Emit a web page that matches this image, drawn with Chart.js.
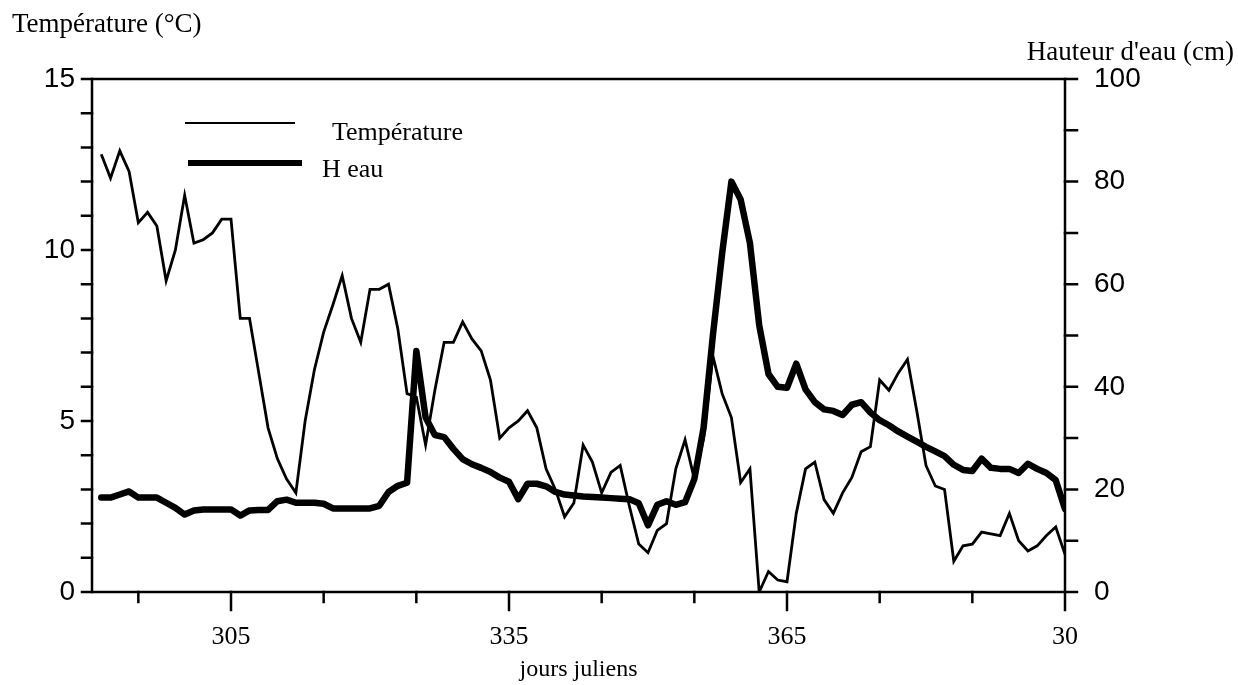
<!DOCTYPE html>
<html>
<head>
<meta charset="utf-8">
<script src="https://cdn.jsdelivr.net/npm/chart.js@4.4.1/dist/chart.umd.min.js"></script>
<style>
  html, body { margin: 0; padding: 0; background: #fff; }
  #wrap { width: 1238px; height: 685px; }
</style>
</head>
<body>
<div id="wrap"><canvas id="chart" width="1238" height="685"></canvas></div>
<script>
// jours juliens (291 -> 395, i.e. 30 janvier de l'annee suivante)
const days = [
  291, 292, 293, 294, 295, 296, 297, 298, 299, 300,
  301, 302, 303, 304, 305, 306, 307, 308, 309, 310,
  311, 312, 313, 314, 315, 316, 317, 318, 319, 320,
  321, 322, 323, 324, 325, 326, 327, 328, 329, 330,
  331, 332, 333, 334, 335, 336, 337, 338, 339, 340,
  341, 342, 343, 344, 345, 346, 347, 348, 349, 350,
  351, 352, 353, 354, 355, 356, 357, 358, 359, 360,
  361, 362, 363, 364, 365, 366, 367, 368, 369, 370,
  371, 372, 373, 374, 375, 376, 377, 378, 379, 380,
  381, 382, 383, 384, 385, 386, 387, 388, 389, 390,
  391, 392, 393, 394, 395
];

const temperature = [
  12.8, 12.1, 12.9, 12.3, 10.8, 11.1, 10.7, 9.1, 10.0, 11.6,
  10.2, 10.3, 10.5, 10.9, 10.9, 8.0, 8.0, 6.4, 4.8, 3.9,
  3.3, 2.9, 5.0, 6.5, 7.6, 8.4, 9.25, 8.0, 7.3, 8.85,
  8.85, 9.0, 7.7, 5.8, 5.7, 4.3, 5.9, 7.3, 7.3, 7.9,
  7.4, 7.05, 6.2, 4.5, 4.8, 5.0, 5.3, 4.8, 3.6, 3.0,
  2.2, 2.6, 4.3, 3.8, 2.9, 3.5, 3.7, 2.5, 1.4, 1.15,
  1.8, 2.0, 3.6, 4.45, 3.3, 4.5, 6.9, 5.8, 5.1, 3.2,
  3.6, 0.0, 0.6, 0.35, 0.3, 2.3, 3.6, 3.8, 2.7, 2.3,
  2.9, 3.35, 4.1, 4.25, 6.2, 5.9, 6.4, 6.8, 5.3, 3.7,
  3.1, 3.0, 0.9, 1.35, 1.4, 1.75, 1.7, 1.65, 2.3, 1.5,
  1.2, 1.35, 1.65, 1.9, 1.1
];

const waterHeight = [
  18.4, 18.4, 19.0, 19.6, 18.4, 18.4, 18.4, 17.4, 16.4, 15.1,
  15.9, 16.1, 16.1, 16.1, 16.1, 14.9, 15.9, 16.0, 16.0, 17.7,
  18.0, 17.4, 17.4, 17.4, 17.2, 16.3, 16.3, 16.3, 16.3, 16.3,
  16.8, 19.5, 20.7, 21.3, 47.0, 34.0, 30.6, 30.2, 27.9, 25.9,
  24.9, 24.2, 23.4, 22.3, 21.5, 18.1, 21.1, 21.1, 20.6, 19.5,
  19.0, 18.8, 18.6, 18.5, 18.4, 18.3, 18.2, 18.1, 17.3, 13.0,
  17.0, 17.7, 17.0, 17.5, 22.0, 32.0, 50.0, 66.0, 80.0, 76.5,
  68.0, 52.0, 42.5, 40.0, 39.8, 44.5, 39.5, 37.0, 35.6, 35.3,
  34.5, 36.5, 37.0, 35.0, 33.5, 32.5, 31.3, 30.3, 29.3, 28.3,
  27.4, 26.5, 24.8, 23.8, 23.6, 26.0, 24.2, 24.0, 24.0, 23.2,
  25.0, 24.0, 23.2, 21.8, 16.2
];

const dayTicks = [295, 305, 315, 325, 335, 345, 355, 365, 375, 385, 395];
const dayTickLabels = ['', '305', '', '', '335', '', '', '365', '', '', '30'];
const tempTicks = [0, 1, 2, 3, 4, 5, 6, 7, 8, 9, 10, 11, 12, 13, 14, 15];
const tempTickLabels = [0, 5, 10, 15];
const waterTicks = [0, 10, 20, 30, 40, 50, 60, 70, 80, 90, 100];
const waterTickLabels = [0, 20, 40, 60, 80, 100];

const SERIF = '"Liberation Serif", "Times New Roman", serif';
const SANS = '"Liberation Sans", Arial, sans-serif';

// cadre, graduations, titres et légende
const framePlugin = {
  id: 'frame',
  afterDraw(chart) {
    const ctx = chart.ctx;
    const a = chart.chartArea;
    const sx = chart.scales.x, sy = chart.scales.y, sy1 = chart.scales.y1;
    ctx.save();
    ctx.strokeStyle = '#000';
    ctx.lineCap = 'square';
    ctx.lineWidth = 2.5;
    ctx.strokeRect(a.left, a.top, a.right - a.left, a.bottom - a.top);

    ctx.beginPath();
    tempTicks.forEach(v => {
      const py = sy.getPixelForValue(v);
      ctx.moveTo(a.left, py);
      ctx.lineTo(a.left - 10, py);
    });
    waterTicks.forEach(v => {
      const py = sy1.getPixelForValue(v);
      ctx.moveTo(a.right, py);
      ctx.lineTo(a.right + 12, py);
    });
    dayTicks.forEach((v, i) => {
      const px = sx.getPixelForValue(v);
      ctx.moveTo(px, a.bottom);
      ctx.lineTo(px, a.bottom + (dayTickLabels[i] ? 18 : 10));
    });
    ctx.stroke();

    ctx.fillStyle = '#000';
    ctx.textBaseline = 'alphabetic';
    ctx.font = '27px ' + SERIF;
    ctx.textAlign = 'left';
    ctx.fillText('Température (°C)', 12, 32);
    ctx.textAlign = 'right';
    ctx.fillText("Hauteur d'eau (cm)", 1234, 60);
    ctx.textAlign = 'center';
    ctx.font = '24px ' + SERIF;
    ctx.fillText('jours juliens', (a.left + a.right) / 2, 676);

    // légende
    const ds = chart.data.datasets;
    ctx.lineCap = 'butt';
    ctx.lineWidth = 2;
    ctx.beginPath(); ctx.moveTo(185, 123); ctx.lineTo(295, 123); ctx.stroke();
    ctx.lineWidth = 6;
    ctx.beginPath(); ctx.moveTo(188, 163); ctx.lineTo(302, 163); ctx.stroke();
    ctx.textAlign = 'left';
    ctx.font = '26px ' + SERIF;
    ctx.fillText(ds[0].label, 332, 140);
    ctx.fillText(ds[1].label, 322, 177);
    ctx.restore();
  }
};

new Chart(document.getElementById('chart'), {
  type: 'line',
  data: {
    datasets: [
      {
        label: 'Température',
        data: days.map((d, i) => ({ x: d, y: temperature[i] })),
        yAxisID: 'y',
        borderColor: '#000',
        borderWidth: 2.8,
        borderJoinStyle: 'miter',
        pointRadius: 0,
        tension: 0,
        fill: false
      },
      {
        label: 'H eau',
        data: days.map((d, i) => ({ x: d, y: waterHeight[i] })),
        yAxisID: 'y1',
        borderColor: '#000',
        borderWidth: 6.5,
        borderJoinStyle: 'round',
        borderCapStyle: 'round',
        pointRadius: 0,
        tension: 0,
        fill: false
      }
    ]
  },
  options: {
    responsive: false,
    animation: false,
    devicePixelRatio: 1,
    layout: { padding: { top: 79, left: 0, right: 0, bottom: 0 } },
    plugins: {
      legend: { display: false },
      tooltip: { enabled: false }
    },
    scales: {
      x: {
        type: 'linear',
        min: 290,
        max: 395,
        afterBuildTicks: s => { s.ticks = dayTicks.map(v => ({ value: v })); },
        afterFit: s => { s.height = 93; },
        grid: { display: false, drawTicks: false },
        border: { display: false },
        ticks: {
          autoSkip: false,
          maxRotation: 0,
          padding: 30,
          color: '#000',
          font: { family: SERIF, size: 26 },
          callback: v => dayTickLabels[dayTicks.indexOf(v)] || ''
        }
      },
      y: {
        position: 'left',
        min: 0,
        max: 15,
        afterBuildTicks: s => { s.ticks = tempTicks.map(v => ({ value: v })); },
        afterFit: s => { s.width = 92; },
        grid: { display: false, drawTicks: false },
        border: { display: false },
        ticks: {
          autoSkip: false,
          padding: 17,
          color: '#000',
          font: { family: SANS, size: 28 },
          callback: v => tempTickLabels.includes(v) ? String(v) : ''
        }
      },
      y1: {
        position: 'right',
        min: 0,
        max: 100,
        afterBuildTicks: s => { s.ticks = waterTicks.map(v => ({ value: v })); },
        afterFit: s => { s.width = 173; },
        grid: { display: false, drawTicks: false },
        border: { display: false },
        ticks: {
          autoSkip: false,
          padding: 29,
          color: '#000',
          font: { family: SANS, size: 28 },
          callback: v => waterTickLabels.includes(v) ? String(v) : ''
        }
      }
    }
  },
  plugins: [framePlugin]
});
</script>
</body>
</html>
